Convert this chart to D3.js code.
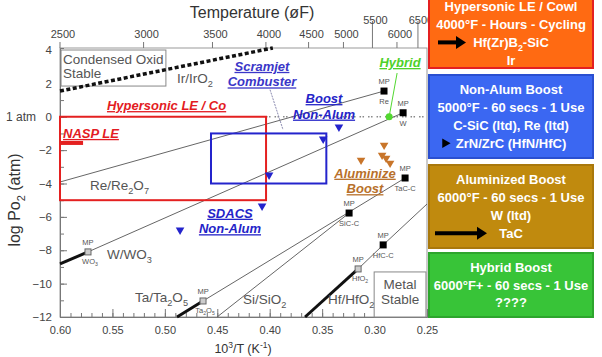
<!DOCTYPE html>
<html>
<head>
<meta charset="utf-8">
<script src="https://cdn.jsdelivr.net/npm/d3@7"></script>
<style>
    body { margin: 0; background: #fff; }
    svg { font-family: "Liberation Sans", Arial, sans-serif; }
    .callout { font-weight: bold; font-style: italic; text-decoration: underline; font-size: 13px; }
    .grey { fill: #555; }
    .panel-text { fill: #fff; font-weight: bold; font-size: 13px; }
</style>
</head>
<body>
<div id="chart"></div>
<script>
// ---- data ----
const xTicks = [0.60, 0.55, 0.50, 0.45, 0.40, 0.35, 0.30, 0.25];
const xMinor = d3.range(0.60, 0.245, -0.01);
const yTicks = [4, 2, 0, -2, -4, -6, -8, -10, -12];
const yMinor = d3.range(-12, 5, 1);
const tempTicks = [2500, 3000, 3500, 4000, 4500, 5000, 5500, 6000, 6500];
const tempRaised = [5500, 6500];

// metal / oxide couples: [1000/T, log pO2]
const irLine = [[0.600, 1.54], [0.397, 4.12]];
const reLine = [[0.600, -3.91], [0.291, 1.54]];
const wThick = [[0.600, -8.82], [0.5733, -8.10]];
const wThin = [[0.5733, -8.10], [0.2728, 0.24]];
const taThick = [[0.4884, -12.0], [0.4636, -11.04]];
const taThin = [[0.4636, -11.04], [0.2709, -3.67]];
const siThin = [[0.4502, -12.0], [0.3243, -5.77]];
const hfThick = [[0.3663, -12.0], [0.3157, -9.12]];
const hfThin = [[0.3157, -9.12], [0.2918, -7.68], [0.25, -5.23]];

const mpFilled = [
    { lab: "Re", p: [0.291, 1.54] },
    { lab: "W", p: [0.2728, 0.24] },
    { lab: "TaC-C", p: [0.2709, -3.67] },
    { lab: "SiC-C", p: [0.3243, -5.77] },
    { lab: "HfC-C", p: [0.2918, -7.68] }
];
const mpOxide = [
    { lab: "WO{3}", p: [0.5733, -8.10] },
    { lab: "Ta{2}O{5}", p: [0.4636, -11.04] },
    { lab: "HfO{2}", p: [0.3157, -9.12] }
];

const coupleLabels = [
    { t: "Ir/IrO{2}", p: [0.4884, 2.05] },
    { t: "Re/Re{2}O{7}", p: [0.5714, -4.39] },
    { t: "W/WO{3}", p: [0.5552, -8.52] },
    { t: "Ta/Ta{2}O{5}", p: [0.5285, -11.1] },
    { t: "Si/SiO{2}", p: [0.4254, -11.2] },
    { t: "Hf/HfO{2}", p: [0.3444, -11.2] }
];

// mission envelopes
const hypersonicBox = { x: [0.60, 0.4035], y: [0, -5] };
const nonAlumBox = { x: [0.456, 0.346], y: [-1, -4] };
const naspLE = [[0.600, -1.57], [0.578, -1.57]];
const blueTriangles = [[0.334, -0.62], [0.349, -1.33], [0.4006, -3.49], [0.4073, -5.35], [0.4855, -6.79]];
const orangeTriangles = [[0.3129, -2.6], [0.2909, -1.7], [0.2928, -2.3], [0.289, -2.48], [0.2852, -2.78]];
const scramjetPointer = [[0.3997, 1.62], [0.3873, -0.78]];
const hybridPointer = [[0.2785, 2.62], [0.2861, 0]];

const callouts = [
    { lines: ["Hypersonic LE / Co"], p: [0.5552, 0.4], anchor: "start", color: "#e31b23" },
    { lines: ["NASP LE"], p: [0.5971, -1.27], anchor: "start", color: "#e31b23" },
    { lines: ["Scramjet", "Combuster"], p: [0.4074, 2.75], anchor: "middle", color: "#3a36c8" },
    { lines: ["Boost", "Non-Alum"], p: [0.3482, 0.82], anchor: "middle", color: "#2424c8" },
    { lines: ["SDACS", "Non-Alum"], p: [0.4379, -6.05], anchor: "middle", color: "#2424c8" },
    { lines: ["Aluminize", "Boost"], p: [0.3091, -3.65], anchor: "middle", color: "#b8702a" },
    { lines: ["Hybrid"], p: [0.2757, 2.98], anchor: "middle", color: "#4ed12a" }
];

// right-hand panels
const panelFills = ["#ff6a12", "#3b67f2", "#c08a0e", "#38c438"];
const panelStrokes = ["#e42020", "#2a4fd0", "#a9780c", "#2da52d"];
const panelLines = [
    ["Hypersonic LE / Cowl", "4000°F - Hours - Cycling", "Hf(Zr)B{2}-SiC", "Ir"],
    ["Non-Alum Boost", "5000°F - 60 secs - 1 Use", "C-SiC (ltd), Re (ltd)", "ZrN/ZrC (HfN/HfC)"],
    ["Aluminized Boost", "6000°F - 60 secs - 1 Use", "W (ltd)", "TaC"],
    ["Hybrid Boost", "6000°F+ - 60 secs - 1 Use", "????"]
];
const panelArrowLine = [2, 3, 3, -1];

// ---- drawing ----
const W = 602, H = 357;
const svg = d3.select("#chart").append("svg").attr("width", W).attr("height", H);

const x = d3.scaleLinear().domain([0.60, 0.25]).range([60, 427]);
const xc = x.copy().clamp(true);
const y = d3.scaleLinear().domain([-12, 4.12]).range([317, 48]);
const toInvK = (f) => 1000 / ((f + 459.67) * 5 / 9);

// writes "A{2}" as subscript, "A[3]" as superscript
function rich(sel, str, fs) {
    const parts = str.split(/(\{[^}]*\}|\[[^\]]*\])/).filter((s) => s.length);
    let off = 0;
    parts.forEach((p) => {
        let shift = 0, small = false, t = p;
        if (p[0] === "{") { t = p.slice(1, -1); shift = 0.3; small = true; }
        else if (p[0] === "[") { t = p.slice(1, -1); shift = -0.4; small = true; }
        const ts = sel.append("tspan").text(t).attr("dy", ((shift - off) * fs) + "px");
        if (small) ts.attr("font-size", (fs * 0.68) + "px");
        off = shift;
    });
    return sel;
}

const line = d3.line().x((d) => x(d[0])).y((d) => y(d[1]));
const plot = svg.append("g");

// frame
plot.append("rect")
    .attr("x", x(0.60)).attr("y", y(4.12))
    .attr("width", x(0.25) - x(0.60)).attr("height", y(-12) - y(4.12))
    .attr("fill", "none").attr("stroke", "#999").attr("stroke-width", 1);

// bottom axis
const bottomAxis = plot.append("g").attr("transform", `translate(0,${y(-12)})`);
bottomAxis.call(d3.axisBottom(x).tickValues(xMinor).tickSize(-4).tickFormat(""));
bottomAxis.call((g) => g.append("g").call(d3.axisBottom(x).tickValues(xTicks)
    .tickSize(-8).tickSizeOuter(0).tickPadding(9).tickFormat(d3.format(".2f"))));
bottomAxis.selectAll("path.domain").attr("stroke", "#777");
bottomAxis.selectAll("line").attr("stroke", "#777");
bottomAxis.selectAll("text").attr("fill", "#444").attr("font-size", 11);

// left axis
const leftAxis = plot.append("g").attr("transform", `translate(${x(0.60)},0)`);
leftAxis.call(d3.axisLeft(y).tickValues(yMinor).tickSize(-4).tickFormat(""));
leftAxis.call((g) => g.append("g").call(d3.axisLeft(y).tickValues(yTicks)
    .tickSize(-7).tickSizeOuter(0).tickPadding(8)));
leftAxis.selectAll("path.domain").attr("stroke", "#777");
leftAxis.selectAll("line").attr("stroke", "#777");
leftAxis.selectAll("text").attr("fill", "#444").attr("font-size", 11.5);

// top temperature axis
const tempAxis = plot.append("g");
tempAxis.selectAll("line").data(tempTicks).join("line")
    .attr("x1", (d) => xc(toInvK(d))).attr("x2", (d) => xc(toInvK(d)))
    .attr("y1", y(4.12))
    .attr("y2", (d) => tempRaised.includes(d) ? y(4.12) - 27 : y(4.12) - 6)
    .attr("stroke", "#777");
tempAxis.selectAll("text").data(tempTicks).join("text")
    .attr("x", (d) => xc(toInvK(d)) + 3)
    .attr("y", (d) => tempRaised.includes(d) ? 24 : 38)
    .attr("text-anchor", "middle").attr("font-size", 11).attr("fill", "#444")
    .text((d) => d);

// axis titles
svg.append("text").attr("x", 252).attr("y", 18).attr("text-anchor", "middle")
    .attr("font-size", 16).attr("fill", "#333").text("Temperature (øF)");
rich(svg.append("text").attr("transform", "translate(20,200) rotate(-90)")
    .attr("text-anchor", "middle").attr("font-size", 16).attr("fill", "#333"), "log Po{2} (atm)", 16);
rich(svg.append("text").attr("x", 243).attr("y", 353).attr("text-anchor", "middle")
    .attr("font-size", 12.5).attr("fill", "#333"), "10[3]/T (K[-1])", 12.5);
svg.append("text").attr("x", 6).attr("y", y(0) + 4).attr("font-size", 12).attr("fill", "#444").text("1 atm");

// stability boxes
const condensed = plot.append("g");
condensed.append("rect")
    .attr("x", x(0.599)).attr("y", y(4.0))
    .attr("width", x(0.499) - x(0.599)).attr("height", y(1.84) - y(4.0))
    .attr("fill", "#fff").attr("stroke", "#888");
condensed.append("text").attr("class", "grey").attr("x", x(0.599) + 2).attr("y", y(4.0) + 14)
    .attr("font-size", 13.5).text("Condensed Oxid");
condensed.append("text").attr("class", "grey").attr("x", x(0.599) + 2).attr("y", y(4.0) + 28)
    .attr("font-size", 13.5).text("Stable");

const metal = plot.append("g");
metal.append("rect")
    .attr("x", x(0.3004)).attr("y", y(-9.3))
    .attr("width", x(0.251) - x(0.3004)).attr("height", y(-12) - y(-9.3))
    .attr("fill", "#fff").attr("stroke", "#888");
metal.append("text").attr("class", "grey").attr("x", (x(0.3004) + x(0.251)) / 2).attr("y", y(-9.3) + 17)
    .attr("text-anchor", "middle").attr("font-size", 13.5).text("Metal");
metal.append("text").attr("class", "grey").attr("x", (x(0.3004) + x(0.251)) / 2).attr("y", y(-9.3) + 32)
    .attr("text-anchor", "middle").attr("font-size", 13.5).text("Stable");

// 1 atm dotted line
plot.append("path").attr("d", line([[hypersonicBox.x[1], 0], [0.25, 0]]))
    .attr("stroke", "#888").attr("stroke-width", 1.5).attr("stroke-dasharray", "1.5,1.5,1.5,4").attr("fill", "none");

// couples
plot.append("path").attr("d", line(irLine)).attr("stroke", "#111").attr("stroke-width", 3.5)
    .attr("stroke-dasharray", "4,2.5").attr("fill", "none");
[reLine, wThin, taThin, siThin, hfThin].forEach((l) => {
    plot.append("path").attr("d", line(l)).attr("stroke", "#666").attr("stroke-width", 1).attr("fill", "none");
});
[wThick, taThick, hfThick].forEach((l) => {
    plot.append("path").attr("d", line(l)).attr("stroke", "#111").attr("stroke-width", 3).attr("fill", "none");
});

// envelopes
plot.append("rect")
    .attr("x", x(hypersonicBox.x[0])).attr("y", y(hypersonicBox.y[0]))
    .attr("width", x(hypersonicBox.x[1]) - x(hypersonicBox.x[0]))
    .attr("height", y(hypersonicBox.y[1]) - y(hypersonicBox.y[0]))
    .attr("fill", "none").attr("stroke", "#e42020").attr("stroke-width", 2);
plot.append("path").attr("d", line(naspLE)).attr("stroke", "#e42020").attr("stroke-width", 4).attr("fill", "none");
plot.append("rect")
    .attr("x", x(nonAlumBox.x[0])).attr("y", y(nonAlumBox.y[0]))
    .attr("width", x(nonAlumBox.x[1]) - x(nonAlumBox.x[0]))
    .attr("height", y(nonAlumBox.y[1]) - y(nonAlumBox.y[0]))
    .attr("fill", "none").attr("stroke", "#2424cc").attr("stroke-width", 2);

// pointers
plot.append("path").attr("d", line(scramjetPointer)).attr("stroke", "#8a8ab0").attr("stroke-width", 1)
    .attr("stroke-dasharray", "2,1").attr("fill", "none");
plot.append("path").attr("d", line(hybridPointer)).attr("stroke", "#52d830").attr("stroke-width", 1).attr("fill", "none");
plot.append("circle").attr("cx", x(hybridPointer[1][0])).attr("cy", y(hybridPointer[1][1])).attr("r", 3.5).attr("fill", "#52d830");

// triangles
const tri = d3.symbol().type(d3.symbolTriangle).size(32);
plot.selectAll("path.bt").data(blueTriangles).join("path").attr("class", "bt")
    .attr("d", tri).attr("fill", "#2424cc")
    .attr("transform", (d) => `translate(${x(d[0])},${y(d[1])}) rotate(180)`);
plot.selectAll("path.ot").data(orangeTriangles).join("path").attr("class", "ot")
    .attr("d", tri).attr("fill", "#c8752a")
    .attr("transform", (d) => `translate(${x(d[0])},${y(d[1])}) rotate(180)`);

// melting points
const mp = plot.selectAll("g.mp").data(mpFilled).join("g").attr("class", "mp")
    .attr("transform", (d) => `translate(${x(d.p[0])},${y(d.p[1])})`);
mp.append("rect").attr("x", -3.5).attr("y", -3.5).attr("width", 7).attr("height", 7).attr("fill", "#000");
mp.append("text").attr("y", -7).attr("text-anchor", "middle").attr("font-size", 7.5).attr("fill", "#555").text("MP");
mp.append("text").attr("y", 13).attr("text-anchor", "middle").attr("font-size", 7.5).attr("fill", "#555").text((d) => d.lab);

const mpo = plot.selectAll("g.mpo").data(mpOxide).join("g").attr("class", "mpo")
    .attr("transform", (d) => `translate(${x(d.p[0])},${y(d.p[1])})`);
mpo.append("rect").attr("x", -3).attr("y", -3).attr("width", 6).attr("height", 6)
    .attr("fill", "#ccc").attr("stroke", "#666");
mpo.append("text").attr("y", -7).attr("text-anchor", "middle").attr("font-size", 7.5).attr("fill", "#555").text("MP");
mpo.each(function (d) {
    rich(d3.select(this).append("text").attr("x", 2).attr("y", 12).attr("text-anchor", "middle")
        .attr("font-size", 7.5).attr("fill", "#555"), d.lab, 7.5);
});

// couple labels
coupleLabels.forEach((d) => {
    rich(plot.append("text").attr("class", "grey").attr("x", x(d.p[0])).attr("y", y(d.p[1]))
        .attr("font-size", 13.5), d.t, 13.5);
});

// callouts
callouts.forEach((c) => {
    c.lines.forEach((t, i) => {
        plot.append("text").attr("class", "callout")
            .attr("x", x(c.p[0])).attr("y", y(c.p[1]) + i * 15.5)
            .attr("text-anchor", c.anchor).attr("fill", c.color).text(t);
    });
});

// right panels
const panelTop = [-3, 75, 165, 253];
const panelBottom = [68, 158, 248, 317];
panelLines.forEach((lines, i) => {
    const g = svg.append("g");
    g.append("rect").attr("x", 429).attr("y", panelTop[i])
        .attr("width", 164).attr("height", panelBottom[i] - panelTop[i])
        .attr("fill", panelFills[i]).attr("stroke", panelStrokes[i]).attr("stroke-width", 2);
    const n = lines.length;
    const step = 17.8;
    const mid = (panelTop[i] + panelBottom[i]) / 2 + (i === 0 ? 1 : 0);
    lines.forEach((t, j) => {
        const ty = mid + (j - (n - 1) / 2) * step + 4.5;
        rich(g.append("text").attr("class", "panel-text").attr("x", 511).attr("y", ty)
            .attr("text-anchor", "middle"), t, 13);
        if (j === panelArrowLine[i]) {
            if (i === 1) {
                g.append("path").attr("d", d3.symbol().type(d3.symbolTriangle).size(40))
                    .attr("transform", `translate(445,${ty - 4.5}) rotate(90)`).attr("fill", "#000");
            } else {
                const x0 = i === 0 ? 438 : 435, x1 = i === 0 ? 466 : 487;
                g.append("line").attr("x1", x0).attr("x2", x1 - 8).attr("y1", ty - 4.5).attr("y2", ty - 4.5)
                    .attr("stroke", "#000").attr("stroke-width", 4);
                g.append("path").attr("d", `M${x1},${ty - 4.5} L${x1 - 10},${ty - 11} L${x1 - 10},${ty + 2} Z`).attr("fill", "#000");
            }
        }
    });
});
</script>
</body>
</html>
